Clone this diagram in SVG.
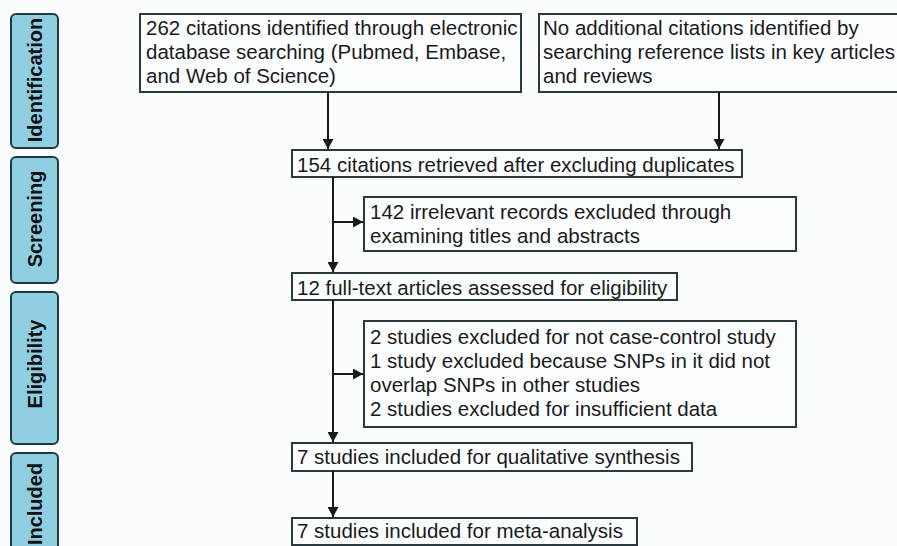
<svg xmlns="http://www.w3.org/2000/svg" width="897" height="546" viewBox="0 0 897 546">
<defs>
<marker id="ah" markerWidth="10" markerHeight="11" refX="10" refY="5.5" orient="auto" markerUnits="userSpaceOnUse">
<path d="M0,0 L10,5.5 L0,11 Z" fill="#1a1a1a"/>
</marker>
</defs>
<style>
.tab{fill:#8fcfe1;stroke:#1f3a42;stroke-width:2}
.tabt{font-family:"Liberation Sans",Arial,sans-serif;font-weight:bold;font-size:20px;fill:#111;text-anchor:middle}
.box{fill:#fcfdff;stroke:#2a3a3c;stroke-width:2}
.t{font-family:"Liberation Sans",Arial,sans-serif;font-size:20.5px;fill:#1a1a1a}
.ln{stroke:#1a1a1a;stroke-width:2;fill:none}
</style>
<rect width="897" height="546" fill="#fbfcfe"/>
<g id="tab-identification"><rect class="tab" x="11" y="14" width="47" height="134" rx="5"/><text class="tabt" transform="translate(42,80) rotate(-90)">Identification</text></g>
<g id="tab-screening"><rect class="tab" x="11" y="157" width="47" height="126" rx="5"/><text class="tabt" transform="translate(42,219) rotate(-90)">Screening</text></g>
<g id="tab-eligibility"><rect class="tab" x="11" y="292" width="47" height="152" rx="5"/><text class="tabt" transform="translate(42,364) rotate(-90)">Eligibility</text></g>
<g id="tab-included"><rect class="tab" x="11" y="453" width="47" height="110" rx="5"/><text class="tabt" transform="translate(42,504) rotate(-90)">Included</text></g>

<g id="box1"><rect class="box" x="140" y="14" width="381" height="78"/>
<text class="t" x="146" y="35">262 citations identified through electronic</text>
<text class="t" x="146" y="59">database searching (Pubmed, Embase,</text>
<text class="t" x="146" y="83">and Web of Science)</text></g>
<g id="box2"><rect class="box" x="539" y="14" width="370" height="78"/>
<text class="t" x="543" y="35">No additional citations identified by</text>
<text class="t" x="543" y="59">searching reference lists in key articles</text>
<text class="t" x="543" y="83">and reviews</text></g>
<g id="box3"><rect class="box" x="292" y="150" width="450" height="27"/>
<text class="t" x="297" y="172">154 citations retrieved after excluding duplicates</text></g>
<g id="box4"><rect class="box" x="364" y="197" width="432" height="54"/>
<text class="t" x="370" y="219">142 irrelevant records excluded through</text>
<text class="t" x="370" y="243">examining titles and abstracts</text></g>
<g id="box5"><rect class="box" x="292" y="273" width="385" height="27"/>
<text class="t" x="297" y="295">12 full-text articles assessed for eligibility</text></g>
<g id="box6"><rect class="box" x="364" y="321" width="432" height="106"/>
<text class="t" x="370" y="344">2 studies excluded for not case-control study</text>
<text class="t" x="370" y="368">1 study excluded because SNPs in it did not</text>
<text class="t" x="370" y="392">overlap SNPs in other studies</text>
<text class="t" x="370" y="416">2 studies excluded for insufficient data</text></g>
<g id="box7"><rect class="box" x="292" y="443" width="400" height="28"/>
<text class="t" x="297" y="464">7 studies included for qualitative synthesis</text></g>
<g id="box8"><rect class="box" x="292" y="518" width="345" height="27"/>
<text class="t" x="297" y="538">7 studies included for meta-analysis</text></g>

<g id="connectors">
<line class="ln" x1="328" y1="92" x2="328" y2="149" marker-end="url(#ah)"/>
<line class="ln" x1="719" y1="92" x2="719" y2="149" marker-end="url(#ah)"/>
<line class="ln" x1="333" y1="177" x2="333" y2="272" marker-end="url(#ah)"/>
<line class="ln" x1="333" y1="222" x2="363" y2="222" marker-end="url(#ah)"/>
<line class="ln" x1="333" y1="300" x2="333" y2="442" marker-end="url(#ah)"/>
<line class="ln" x1="333" y1="374" x2="363" y2="374" marker-end="url(#ah)"/>
<line class="ln" x1="333" y1="471" x2="333" y2="517" marker-end="url(#ah)"/>
</g>
</svg>
